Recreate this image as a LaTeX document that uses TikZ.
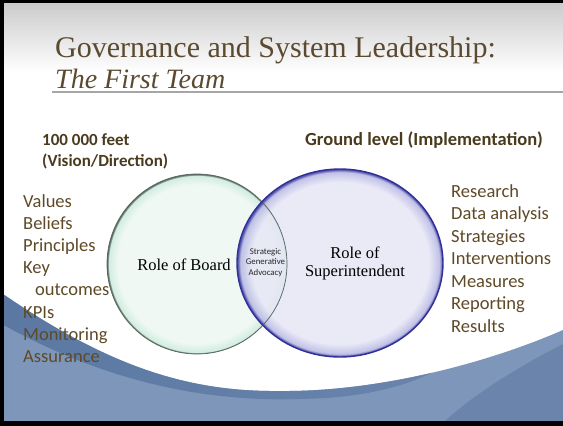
\documentclass[tikz,border=0pt]{standalone}
\usepackage{fontspec}
\setmainfont{Liberation Serif}
\newfontfamily\calibri{Carlito}
\usetikzlibrary{calc}

\definecolor{titlebrown}{HTML}{5B4A30}
\definecolor{headbrown}{HTML}{4A3A1E}
\definecolor{listbrown}{HTML}{5E4A28}
\definecolor{swooshlight}{HTML}{7D96BA}
\definecolor{swooshdark}{HTML}{5A78A2}
\definecolor{swooshmid}{HTML}{6A84AC}
\definecolor{boardfill}{HTML}{EFF8F3}
\definecolor{boardglow}{HTML}{D2EDE1}
\definecolor{boardedge}{HTML}{56665E}
\definecolor{supfill}{HTML}{E6E6F6}
\definecolor{supglow}{HTML}{B4B4E2}
\definecolor{supedge}{HTML}{30309A}

\pgfdeclareradialshading{boardshade}{\pgfpoint{0bp}{0bp}}{color(0bp)=(boardfill); color(22bp)=(boardfill); color(24.5bp)=(boardglow); color(24.9bp)=(boardedge); color(50bp)=(boardedge)}
\pgfdeclareradialshading{supshade}{\pgfpoint{0bp}{0bp}}{color(0bp)=(supfill); color(21.5bp)=(supfill); color(24.2bp)=(supglow); color(24.8bp)=(supedge); color(50bp)=(supedge)}

\begin{document}
\begin{tikzpicture}[x=1pt,y=-1pt,
	titletxt/.style={font=\fontsize{30}{34}\selectfont, text=titlebrown, anchor=base west, inner sep=0pt},
	headtxt/.style={font=\calibri\bfseries\fontsize{17}{21}\selectfont, text=headbrown, anchor=base west, inner sep=0pt},
	listtxt/.style={font=\calibri\fontsize{18.5}{22}\selectfont, text=listbrown, anchor=base west, inner sep=0pt},
	roletxt/.style={font=\fontsize{16.5}{18}\selectfont, text=black, anchor=base, inner sep=0pt},
	advtxt/.style={font=\calibri\fontsize{8.8}{10}\selectfont, text=black!85, anchor=base, inner sep=0pt}]
		%%%%% START %%%%%
		\useasboundingbox (0,0) rectangle (563,426);
		\fill[white] (0,0) rectangle (563,426);
		\shade[top color=black!21, bottom color=white] (0,0) rectangle (563,72);
		
		% swoosh at the bottom
		\fill[swooshlight] (0,292) .. controls (110,368) and (190,392) .. (280,391) .. controls (380,392) and (490,362) .. (563,330) -- (563,426) -- (0,426) -- cycle;
		\fill[swooshmid] (563,344) .. controls (520,366) and (470,396) .. (440,426) -- (563,426) -- cycle;
		\shade[left color=swooshdark, right color=swooshmid] (0,292) .. controls (110,368) and (190,392) .. (280,391) .. controls (330,391.5) and (382.5,384.25) .. (431.6,372.9) .. controls (400,388) and (360,398) .. (300,399) .. controls (180,403) and (80,368) .. (0,323) -- cycle;
		
		% frame
		\fill[black] (0,0) rectangle (4,426);
		\fill[black] (0,0) rectangle (563,2.5);
		\fill[black] (0,421) rectangle (563,426);
		
		% title
		\node[titletxt] (title1) at (55,57) {Governance and System Leadership:};
		\node[titletxt, font=\itshape\fontsize{28}{34}\selectfont] (title2) at (55,88) {The First Team};
		\draw[line width=1.2, color=black!35] (52,92) -- (563,92);
		
		% circles
		\shade[shading=boardshade] (197,264) circle (90);
		\shade[shading=supshade, opacity=0.82] (340,263) ellipse (103 and 94);
		\draw[line width=0.7, color=boardedge] (197,264) circle (90);
		\draw[line width=1.4, color=supedge] (340,263) ellipse (103 and 94);
		
		\node[roletxt] (board) at (184,270) {Role of Board};
		\node[roletxt] (supt1) at (355,258) {Role of};
		\node[roletxt] (supt2) at (355,276) {Superintendent};
		\node[advtxt] (adv1) at (265.5,254) {Strategic};
		\node[advtxt] (adv2) at (265.5,264.5) {Generative};
		\node[advtxt] (adv3) at (265.5,275) {Advocacy};
		
		% headings
		\node[headtxt] (vision1) at (42,145) {100 000 feet};
		\node[headtxt] (vision2) at (42,166) {(Vision/Direction)};
		\node[headtxt, font=\calibri\bfseries\fontsize{18.5}{21}\selectfont] (ground) at (305,145) {Ground level (Implementation)};
		
		% lists
		\foreach \lbl [count=\i] in {Values,Beliefs,Principles,Key,{\hspace*{12pt}outcomes},KPIs,Monitoring,Assurance}
			\node[listtxt] (left\i) at (23,{207+22.2*(\i-1)}) {\lbl};
		\foreach \lbl [count=\i] in {Research,Data analysis,Strategies,Interventions,Measures,Reporting,Results}
			\node[listtxt] (right\i) at (451,{197+22.5*(\i-1)}) {\lbl};
		%%%%% END %%%%%
\end{tikzpicture}
\end{document}
